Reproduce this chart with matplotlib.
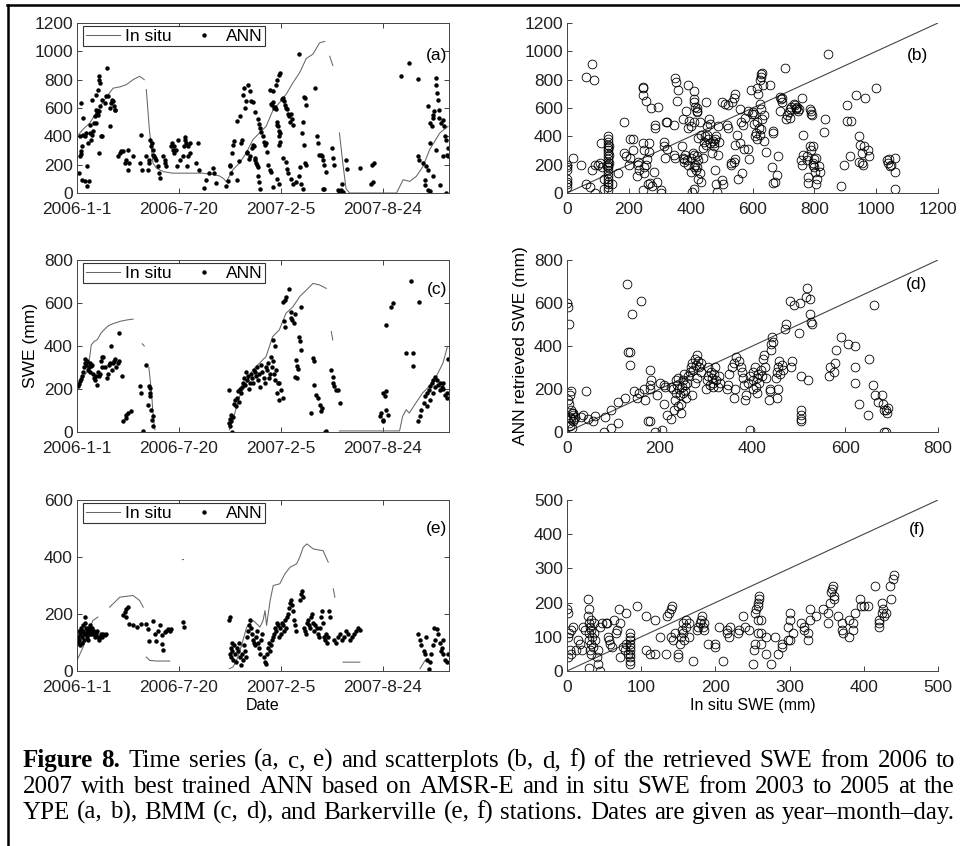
import numpy as np
import matplotlib
matplotlib.use("Agg")
import matplotlib.pyplot as plt
from matplotlib.lines import Line2D

plt.rcParams['font.family'] = 'Liberation Sans'
nan = np.nan

# ---------------- data (days since 2006-1-1, SWE in mm) ----------------
date_ticks = [0, 200, 400, 600]
date_labels = ['2006-1-1', '2006-7-20', '2007-2-5', '2007-8-24']

# (a) YPE
a_insitu_day = [0, 12, 25, 44, 58, 71, 85, 97, 110, 123, 132, nan, 136, 142, 149, 156, 170, 188, 220, 247, 267, 280, 288, 293,
                306, 319, 332, 345, 358, 371, 385, 398, 411, 424, 437, 450, 463, 476, 486, nan, 496, 502, nan, 515, 522, 528,
                535, 580, 627, 640, 653, 666, 679, 692, 712, 728]
a_insitu_val = [400, 450, 494, 600, 680, 740, 750, 765, 800, 824, 800, nan, 730, 450, 212, 175, 150, 140, 140, 140, 130, 120, 100, 80,
                165, 212, 282, 376, 424, 470, 588, 640, 700, 780, 850, 950, 980, 1060, 1070, nan, 965, 900, nan, 424, 200, 30,
                0, 0, 0, 94, 82, 118, 188, 306, 424, 470]
a_ann = [(3, 141), (5, 259), (7, 278), (8, 294), (10, 329), (5, 400), (12, 412), (15, 400), (17, 424), (8, 635), (12, 529), (9, 94),
         (15, 82), (20, 188), (22, 353), (20, 47), (24, 82), (25, 482), (26, 424), (28, 376), (30, 412), (31, 435), (33, 494),
         (35, 541), (37, 588), (38, 494), (39, 565), (41, 576), (41, 553), (43, 576), (45, 612), (29, 659), (38, 694), (41, 729),
         (43, 800), (44, 824), (46, 776), (49, 659), (44, 282), (48, 400), (50, 400), (54, 635), (56, 682), (58, 882), (61, 682),
         (64, 600), (66, 635), (68, 659), (71, 647), (73, 612), (75, 588), (74, 588), (64, 471), (81, 259), (84, 282), (87, 294),
         (91, 294), (95, 212), (97, 235), (100, 306), (102, 212), (100, 165), (110, 259), (126, 412), (124, 212), (127, 165),
         (136, 259), (139, 165), (141, 235), (142, 212), (144, 376), (146, 329), (148, 353), (149, 306), (150, 271), (152, 259),
         (154, 247), (155, 235), (158, 188), (161, 141), (162, 106), (168, 259), (172, 235), (173, 212), (175, 188), (184, 329),
         (186, 353), (188, 306), (190, 282), (191, 329), (195, 306), (198, 376), (196, 188), (203, 235), (208, 259), (209, 329),
         (211, 376), (213, 353), (217, 329), (221, 282), (218, 259), (216, 188), (211, 395), (221, 353), (234, 212), (237, 353),
         (240, 165), (250, 35), (254, 94), (260, 141), (266, 176), (269, 141), (273, 71), (293, 47), (296, 82), (300, 188),
         (301, 200), (303, 141), (304, 282), (306, 341), (308, 365), (313, 94), (314, 506), (318, 224), (319, 541), (322, 353),
         (323, 376), (326, 690), (327, 740), (330, 600), (331, 650), (333, 280), (334, 290), (337, 240), (340, 260), (343, 320),
         (345, 340), (347, 330), (349, 250), (350, 230), (352, 210), (353, 200), (355, 180), (356, 120), (358, 80), (359, 30),
         (335, 760), (340, 720), (342, 650), (345, 640), (350, 570), (355, 520), (358, 490), (360, 460), (362, 430), (365, 400),
         (366, 360), (368, 340), (370, 350), (372, 290), (375, 200), (378, 160), (380, 150), (385, 40), (380, 630), (382, 620),
         (384, 640), (386, 600), (388, 610), (390, 590), (392, 500), (393, 480), (394, 470), (396, 440), (397, 400), (398, 420),
         (399, 360), (396, 340), (378, 730), (385, 720), (390, 760), (393, 800), (396, 830), (398, 850), (392, 100), (396, 60),
         (402, 660), (404, 670), (406, 650), (408, 620), (410, 600), (412, 590), (414, 560), (416, 540), (418, 500), (420, 560),
         (422, 520), (424, 480), (405, 250), (410, 220), (412, 170), (414, 140), (420, 100), (424, 60), (430, 80), (435, 980),
         (445, 680), (448, 670), (450, 620), (444, 500), (442, 420), (446, 340), (448, 210), (450, 200), (438, 180), (436, 120),
         (440, 60), (444, 30), (468, 740), (470, 400), (472, 350), (475, 270), (478, 270), (480, 260), (483, 230), (485, 200),
         (488, 150), (482, 30), (485, 30), (500, 320), (502, 250), (504, 200), (512, 20), (515, 0), (518, 20), (520, 60),
         (522, 10), (527, 230), (530, 170), (555, 176), (578, 200), (582, 212), (580, 80), (577, 60), (635, 823), (651, 918),
         (669, 807), (669, 259), (672, 235), (679, 212), (682, 94), (682, 59), (688, 612), (692, 353), (693, 494), (697, 470),
         (698, 529), (699, 553), (701, 576), (705, 812), (705, 765), (706, 706), (708, 659), (710, 588), (711, 529), (714, 494),
         (718, 518), (721, 470), (723, 400), (725, 376), (727, 271), (728, 259), (718, 259), (705, 306), (698, 122), (692, 12),
         (688, 24), (712, 59), (724, 0), (728, 318), (685, 188), (688, 165)]

# (b) YPE scatter (in situ, ANN)
b_pts = [(0, 40), (0, 60), (0, 80), (0, 100), (0, 160), (0, 180), (0, 200), (20, 250), (45, 200), (60, 820), (60, 60), (80, 910),
         (88, 800), (80, 160), (75, 40), (90, 200), (90, 0), (100, 200), (108, 210), (112, 180), (110, 350), (120, 30), (120, 100),
         (133, 20), (133, 40), (133, 60), (133, 80), (133, 100), (133, 120), (133, 140), (133, 160), (133, 180), (133, 200),
         (133, 220), (133, 240), (133, 260), (133, 280), (133, 300), (133, 320), (133, 340), (133, 360), (133, 380), (133, 400),
         (136, 210), (136, 270), (136, 330), (130, 190), (145, 60), (165, 140), (185, 500), (185, 280), (190, 260), (205, 380),
         (205, 250), (200, 200), (215, 380), (215, 300), (230, 200), (230, 220), (232, 160), (228, 120), (245, 740), (245, 750),
         (245, 690), (245, 350), (248, 300), (245, 20), (248, 180), (250, 140), (255, 650), (258, 240), (255, 200), (265, 350),
         (265, 290), (262, 60), (275, 50), (270, 70), (272, 600), (285, 480), (285, 460), (283, 150), (295, 610), (292, 80),
         (305, 0), (303, 20), (315, 360), (315, 330), (318, 250), (320, 500), (323, 500), (325, 310), (345, 270), (348, 250),
         (345, 480), (350, 810), (352, 780), (355, 650), (360, 730), (375, 250), (378, 240), (380, 220), (372, 330), (376, 520),
         (382, 270), (385, 580), (388, 230), (390, 200), (392, 760), (390, 460), (394, 510), (400, 470), (402, 250), (400, 150),
         (405, 10), (410, 720), (410, 660), (412, 640), (414, 610), (410, 500), (408, 280), (412, 270), (414, 200), (410, 180),
         (416, 160), (412, 30), (420, 600), (422, 570), (420, 580), (425, 390), (420, 260), (424, 230), (422, 180), (425, 100),
         (430, 500), (432, 410), (430, 140), (432, 80), (440, 320), (440, 250), (442, 360), (445, 400), (450, 640), (452, 470),
         (455, 380), (450, 340), (454, 410), (460, 520), (462, 490), (464, 350), (472, 370), (475, 350), (478, 380), (476, 330),
         (470, 280), (482, 60), (480, 160), (482, 400), (484, 10), (490, 270), (492, 360), (488, 470), (500, 640), (500, 90),
         (505, 60), (510, 630), (520, 620), (518, 480), (522, 460), (530, 200), (532, 210), (535, 640), (540, 670), (545, 700),
         (540, 220), (545, 240), (542, 340), (550, 410), (552, 100), (560, 590), (562, 500), (560, 350), (565, 140), (570, 480),
         (575, 530), (572, 310), (585, 580), (586, 310), (588, 240), (595, 730), (598, 560), (600, 570), (605, 560), (608, 400),
         (606, 490), (615, 740), (618, 700), (615, 500), (612, 420), (620, 460), (616, 380), (625, 800), (627, 820), (628, 840),
         (630, 850), (625, 630), (628, 590), (626, 450), (630, 520), (624, 410), (635, 760), (638, 550), (636, 370), (645, 290),
         (655, 760), (665, 440), (665, 420), (662, 180), (666, 70), (672, 80), (680, 130), (682, 260), (690, 680), (692, 660),
         (694, 670), (696, 640), (690, 580), (705, 880), (708, 520), (710, 550), (720, 530), (722, 590), (725, 610), (718, 570),
         (735, 630), (738, 620), (740, 600), (742, 590), (745, 610), (748, 580), (750, 590), (760, 670), (762, 410), (758, 230),
         (760, 200), (764, 270), (775, 260), (776, 230), (778, 110), (780, 70), (785, 590), (788, 580), (790, 560), (792, 550),
         (786, 330), (790, 300), (795, 330), (797, 210), (795, 200), (798, 240), (800, 180), (802, 150), (805, 250), (808, 100),
         (806, 60), (815, 190), (817, 150), (830, 430), (835, 520), (845, 980), (885, 50), (895, 200), (905, 620), (907, 510),
         (920, 510), (915, 260), (935, 690), (945, 400), (947, 340), (945, 220), (955, 210), (957, 200), (955, 280), (965, 670),
         (962, 330), (975, 300), (978, 260), (1000, 740), (1035, 230), (1037, 210), (1040, 240), (1045, 190), (1047, 200),
         (1060, 250), (1060, 150), (1062, 30)]

# (c) BMM
c_insitu_day = [0, 10, 20, 25, 28, 33, 40, 47, 55, 62, 72, 85, 100, 110, nan, 128, 132, nan, 141, 146, 150, 153, nan,
                299, 306, 319, 332, 345, 358, 371, 384, 397, 410, 424, 437, 450, 463, 476, 489, nan, 499, 502, nan,
                515, 560, 600, 633, 639, 646, 652, 665, 678, 691, 705, 718, 727]
c_insitu_val = [212, 250, 280, 350, 405, 420, 430, 460, 480, 495, 505, 515, 522, 525, nan, 410, 400, nan, 300, 190, 60, 10, nan,
                10, 57, 165, 227, 289, 320, 351, 444, 475, 552, 583, 630, 660, 691, 684, 668, nan, 467, 428, nan,
                5, 5, 5, 5, 73, 104, 88, 135, 181, 212, 258, 320, 398]
c_ann = [(2, 212), (4, 225), (6, 235), (8, 245), (10, 260), (12, 280), (14, 300), (15, 320), (16, 340), (18, 310), (20, 330),
         (22, 290), (24, 300), (25, 320), (26, 280), (28, 305), (30, 310), (32, 270), (34, 250), (36, 240), (38, 260), (40, 220),
         (42, 280), (44, 260), (46, 270), (48, 330), (50, 350), (52, 350), (50, 300), (55, 300), (58, 250), (60, 270), (62, 310),
         (64, 320), (66, 400), (68, 290), (70, 320), (72, 330), (74, 340), (76, 300), (80, 320), (82, 330), (82, 460), (88, 260),
         (90, 50), (97, 80), (100, 88), (105, 96), (97, 65), (123, 212), (126, 181), (130, 5), (136, 313), (139, 127), (141, 212),
         (143, 204), (144, 181), (146, 104), (148, 57), (149, 26), (150, 73), (143, 166), (299, 40), (300, 60), (301, 30),
         (302, 80), (303, 50), (305, 0), (306, 70), (308, 130), (310, 150), (312, 120), (314, 160), (316, 190), (318, 140),
         (320, 200), (322, 180), (324, 210), (326, 230), (328, 250), (330, 220), (332, 280), (334, 240), (336, 260), (338, 200),
         (340, 230), (342, 270), (344, 250), (346, 230), (348, 290), (350, 280), (352, 260), (354, 300), (356, 240), (358, 270),
         (360, 210), (362, 310), (364, 280), (366, 250), (368, 230), (370, 300), (372, 290), (374, 320), (376, 250), (378, 270),
         (380, 350), (382, 300), (384, 330), (386, 270), (388, 240), (390, 290), (392, 180), (394, 230), (396, 150), (299, 196),
         (384, 428), (388, 400), (397, 227), (401, 196), (404, 158), (404, 606), (408, 615), (411, 630), (416, 664), (407, 514),
         (409, 490), (419, 528), (420, 560), (422, 521), (426, 505), (428, 550), (430, 336), (432, 305), (435, 444), (437, 421),
         (439, 382), (432, 250), (427, 258), (433, 294), (440, 583), (463, 343), (465, 330), (466, 220), (469, 173), (472, 160),
         (476, 127), (478, 96), (481, 110), (460, 88), (486, 0), (489, 3), (499, 289), (502, 258), (505, 212), (509, 196),
         (512, 196), (517, 135), (502, 227), (594, 73), (597, 88), (600, 50), (601, 181), (604, 166), (607, 104), (610, 80),
         (601, 57), (607, 189), (607, 498), (617, 583), (620, 599), (645, 367), (660, 367), (660, 308), (656, 700), (672, 606),
         (670, 50), (673, 73), (676, 104), (680, 135), (683, 166), (686, 181), (690, 196), (693, 212), (696, 227), (699, 243),
         (703, 258), (706, 240), (709, 220), (712, 230), (716, 210), (719, 200), (722, 170), (726, 160), (729, 340), (686, 120),
         (693, 150), (699, 180), (703, 210), (712, 195), (719, 230), (726, 180)]

# (d) BMM scatter
d_pts = [(0, 600), (2, 580), (4, 500), (8, 190), (6, 170), (3, 150), (5, 130), (8, 100), (10, 90), (12, 80), (6, 70), (9, 60),
         (13, 50), (4, 40), (7, 30), (11, 20), (15, 60), (18, 70), (14, 90), (40, 190), (30, 70), (35, 80), (45, 60), (55, 50),
         (60, 75), (80, 0), (82, 70), (95, 100), (95, 20), (110, 140), (110, 40), (125, 160), (130, 690), (132, 370), (136, 370),
         (135, 310), (140, 550), (145, 190), (150, 160), (155, 180), (160, 610), (165, 200), (168, 150), (178, 200), (180, 220),
         (182, 240), (180, 290), (175, 50), (180, 50), (190, 0), (195, 170), (200, 230), (210, 220), (212, 210), (210, 130),
         (215, 80), (205, 10), (225, 210), (228, 200), (225, 60), (230, 100), (232, 150), (235, 180), (238, 220), (240, 250),
         (242, 200), (244, 170), (246, 130), (248, 210), (250, 240), (252, 270), (254, 190), (256, 160), (258, 230), (260, 260),
         (235, 240), (240, 120), (245, 90), (250, 180), (255, 220), (265, 280), (268, 300), (270, 320), (272, 290), (275, 340),
         (278, 310), (280, 360), (282, 330), (285, 300), (288, 280), (290, 320), (270, 170), (275, 230), (280, 250), (300, 200),
         (302, 240), (305, 260), (308, 220), (310, 280), (312, 250), (315, 230), (318, 270), (320, 300), (322, 240), (325, 210),
         (328, 260), (330, 230), (305, 300), (315, 210), (345, 200), (348, 220), (350, 270), (355, 300), (360, 320), (365, 350),
         (370, 330), (375, 300), (378, 280), (360, 160), (362, 200), (380, 250), (382, 220), (384, 150), (386, 170), (395, 10),
         (390, 230), (395, 260), (400, 280), (402, 240), (405, 300), (408, 210), (410, 250), (412, 270), (415, 230), (418, 290),
         (420, 260), (422, 340), (425, 360), (428, 300), (430, 250), (400, 200), (410, 180), (435, 150), (437, 190), (438, 200),
         (440, 380), (440, 410), (442, 440), (444, 420), (450, 250), (453, 280), (455, 300), (458, 330), (460, 270), (463, 310),
         (466, 290), (452, 160), (456, 200), (470, 480), (472, 500), (480, 610), (482, 300), (486, 330), (490, 590), (500, 460),
         (502, 600), (505, 260), (505, 100), (505, 80), (505, 60), (505, 50), (515, 630), (517, 670), (520, 240), (525, 550),
         (527, 510), (528, 500), (523, 620), (565, 260), (567, 300), (580, 380), (578, 320), (575, 280), (590, 440), (605, 410),
         (620, 300), (622, 400), (620, 230), (630, 130), (650, 80), (652, 340), (660, 220), (662, 590), (665, 170), (670, 140),
         (680, 170), (682, 130), (684, 100), (683, 0), (688, 0), (690, 90), (692, 110), (688, 100)]

# (e) Barkerville
e_insitu_day = [0, 12, 22, 31, 41, nan, 64, 84, 110, 123, 130, nan, 136, 143, 156, 182, nan, 207, 209, nan,
                299, 306, 313, 320, 333, 346, 359, 365, 369, 372, 379, 385, 398, 408, 418, 431, 437, 444, 451, 464, 483, 493,
                nan, 503, 506, nan, 522, 555, nan, 673, 683, 690]
e_insitu_val = [37, 84, 131, 177, 189, nan, 224, 259, 265, 247, 224, nan, 49, 37, 35, 35, nan, 391, 391, nan,
                8, 14, 37, 72, 154, 177, 154, 177, 212, 160, 247, 300, 306, 341, 364, 376, 399, 434, 446, 428, 422, 382,
                nan, 288, 259, nan, 31, 31, nan, 8, 37, 43]
e_ann = [(1, 100), (2, 120), (3, 140), (4, 110), (5, 90), (6, 130), (7, 150), (8, 140), (9, 120), (10, 100), (11, 140), (12, 160),
         (13, 110), (14, 130), (15, 190), (16, 170), (17, 150), (18, 130), (19, 140), (20, 120), (21, 110), (22, 150), (23, 140),
         (24, 130), (25, 160), (26, 150), (27, 130), (28, 140), (30, 150), (32, 130), (34, 140), (36, 120), (38, 130), (40, 140),
         (42, 120), (44, 110), (46, 120), (48, 130), (50, 120), (52, 130), (54, 125), (56, 130), (90, 195), (94, 207), (97, 218),
         (100, 224), (96, 189), (103, 166), (110, 160), (117, 154), (126, 166), (136, 166), (139, 148), (141, 107), (149, 177),
         (153, 131), (156, 107), (159, 142), (162, 160), (166, 125), (167, 96), (169, 72), (172, 137), (175, 142), (179, 148),
         (183, 142), (185, 148), (208, 172), (209, 154), (299, 180), (300, 190), (301, 60), (302, 50), (303, 80), (304, 100),
         (305, 70), (306, 40), (308, 90), (310, 60), (312, 30), (314, 80), (316, 70), (318, 100), (320, 50), (322, 20), (324, 60),
         (326, 40), (328, 90), (330, 70), (332, 50), (334, 120), (336, 140), (338, 160), (340, 180), (342, 150), (344, 130),
         (346, 110), (348, 100), (350, 90), (352, 120), (354, 140), (356, 100), (358, 80), (360, 60), (362, 110), (364, 130),
         (366, 50), (368, 30), (370, 25), (372, 60), (374, 80), (376, 100), (378, 70), (380, 90), (382, 110), (384, 120),
         (386, 130), (388, 150), (390, 140), (392, 170), (394, 160), (396, 120), (398, 150), (400, 130), (402, 170), (404, 160),
         (406, 140), (408, 180), (410, 150), (412, 190), (414, 200), (416, 220), (418, 240), (420, 250), (422, 230), (424, 210),
         (426, 180), (428, 160), (430, 140), (438, 250), (440, 270), (442, 280), (444, 260), (446, 150), (448, 140), (450, 130),
         (452, 170), (454, 180), (456, 160), (458, 150), (460, 190), (462, 200), (464, 170), (466, 140), (468, 160), (470, 150),
         (472, 130), (474, 120), (476, 150), (478, 190), (480, 210), (482, 170), (484, 120), (486, 110), (488, 130), (490, 100),
         (492, 120), (494, 212), (496, 189), (504, 110), (508, 100), (512, 120), (516, 130), (520, 110), (524, 120), (528, 140),
         (532, 130), (536, 110), (540, 120), (544, 130), (548, 140), (552, 150), (555, 145), (670, 131), (673, 110), (676, 90),
         (680, 70), (683, 60), (686, 40), (690, 8), (692, 30), (695, 60), (698, 90), (702, 110), (706, 148), (709, 130),
         (712, 100), (716, 80), (719, 60), (722, 40), (726, 30), (729, 60), (684, 120), (700, 150), (714, 70), (718, 110)]

# (f) Barkerville scatter
f_pts = [(0, 180), (2, 170), (3, 110), (1, 100), (4, 60), (5, 50), (2, 40), (6, 120), (8, 130), (15, 90), (18, 80), (20, 60),
         (22, 130), (24, 120), (12, 60), (28, 210), (30, 180), (32, 150), (30, 140), (31, 130), (33, 120), (29, 110), (34, 100),
         (30, 90), (32, 80), (35, 70), (31, 60), (33, 50), (28, 160), (36, 140), (30, 10), (37, 110), (38, 90), (40, 40), (42, 20),
         (44, 0), (45, 130), (47, 140), (42, 60), (52, 140), (54, 140), (55, 100), (56, 90), (58, 80), (60, 70), (64, 150),
         (66, 110), (67, 120), (70, 180), (71, 140), (72, 40), (76, 70), (78, 60), (80, 80), (82, 50), (80, 170), (85, 20),
         (85, 30), (85, 40), (85, 50), (85, 60), (85, 70), (85, 80), (85, 90), (85, 100), (85, 110), (95, 190), (107, 160),
         (107, 60), (112, 50), (118, 50), (118, 150), (125, 100), (133, 50), (135, 160), (138, 170), (140, 180), (142, 190),
         (145, 110), (140, 100), (143, 90), (150, 40), (150, 50), (152, 80), (154, 100), (155, 120), (156, 140), (157, 110),
         (158, 90), (160, 130), (160, 150), (165, 140), (165, 100), (170, 30), (175, 120), (177, 130), (179, 140), (180, 150),
         (182, 160), (183, 130), (185, 120), (184, 140), (190, 80), (200, 70), (200, 80), (205, 130), (210, 30), (215, 110),
         (216, 120), (218, 100), (220, 130), (230, 110), (232, 120), (237, 160), (240, 130), (245, 120), (250, 20), (252, 60),
         (253, 170), (255, 180), (254, 80), (258, 190), (258, 200), (259, 220), (259, 210), (258, 150), (258, 110), (262, 150),
         (262, 80), (262, 110), (268, 50), (268, 100), (275, 20), (280, 100), (285, 50), (290, 70), (290, 80), (298, 90),
         (298, 130), (300, 170), (300, 150), (300, 90), (305, 110), (315, 140), (320, 130), (320, 120), (325, 90), (325, 110),
         (328, 180), (328, 150), (335, 160), (345, 180), (352, 170), (352, 140), (355, 200), (356, 230), (357, 240), (358, 250),
         (360, 210), (360, 220), (365, 160), (370, 140), (370, 120), (372, 110), (380, 150), (380, 100), (385, 120), (386, 140),
         (388, 170), (395, 210), (396, 190), (400, 190), (405, 190), (415, 250), (420, 140), (420, 130), (421, 150), (425, 170),
         (425, 200), (426, 180), (427, 160), (430, 170), (435, 250), (437, 210), (440, 270), (441, 280)]

caption = [
    "Figure 8. Time series (a, c, e) and scatterplots (b, d, f) of the retrieved SWE from 2006 to",
    "2007 with best trained ANN based on AMSR-E and in situ SWE from 2003 to 2005 at the",
    "YPE (a, b), BMM (c, d), and Barkerville (e, f) stations. Dates are given as year\u2013month\u2013day.",
]

# ---------------- figure ----------------
W, H = 960, 846
fig = plt.figure(figsize=(W / 100, H / 100), dpi=100)

def box(x0, y0, x1, y1):
    return [x0 / W, 1 - y1 / H, (x1 - x0) / W, (y1 - y0) / H]

FS = 12.5
LC = '#666666'

def style_ts(ax, ymax):
    ax.set_xlim(0, 730)
    ax.set_ylim(0, ymax)
    ax.set_xticks(date_ticks)
    ax.set_xticklabels(date_labels)
    ax.set_yticks(np.arange(0, ymax + 1, 200))
    ax.tick_params(direction='in', length=3.5, width=0.6, top=True, right=True, labelsize=FS, colors='#222')
    ax.tick_params(axis='x', pad=6.5)
    ax.tick_params(axis='y', pad=3)
    for s in ax.spines.values():
        s.set_linewidth(0.7)
        s.set_color('#444')

def style_sc(ax, vmax, step):
    ax.set_xlim(0, vmax)
    ax.set_ylim(0, vmax)
    ax.set_xticks(np.arange(0, vmax + 1, step))
    ax.set_yticks(np.arange(0, vmax + 1, step))
    ax.spines['top'].set_visible(False)
    ax.spines['right'].set_visible(False)
    for s in ['left', 'bottom']:
        ax.spines[s].set_linewidth(0.7)
        ax.spines[s].set_color('#444')
    ax.tick_params(direction='in', length=3.5, width=0.6, labelsize=FS, colors='#222')
    ax.tick_params(axis='x', pad=6.5)
    ax.tick_params(axis='y', pad=3)

def ts_panel(rect, days, vals, ann, ymax, tag, tag_y):
    ax = fig.add_axes(rect)
    ax.plot(days, vals, color=LC, lw=0.75)
    ad, av = zip(*ann)
    ax.plot(ad, av, ls='none', marker='o', ms=3.2, color='k', mew=0)
    style_ts(ax, ymax)
    handles = [Line2D([], [], color=LC, lw=0.75),
               Line2D([], [], ls='none', marker='o', ms=3.2, color='k', mew=0)]
    leg = ax.legend(handles, ['In situ', 'ANN'], ncol=2, loc='upper left', bbox_to_anchor=(0.016, 0.982),
                    borderaxespad=0, borderpad=0.15, handlelength=2.0, handletextpad=0.25, columnspacing=0.9,
                    fancybox=False, edgecolor='#333', framealpha=1, fontsize=FS)
    leg.get_frame().set_linewidth(0.8)
    ax.text(0.995, tag_y, tag, transform=ax.transAxes, ha='right', va='center', fontsize=FS)
    return ax

def sc_panel(rect, pts, vmax, step, tag, tag_x, tag_y):
    ax = fig.add_axes(rect)
    ax.plot([0, vmax], [0, vmax], color='#444', lw=0.8)
    x, y = zip(*pts)
    ax.plot(x, y, ls='none', marker='o', ms=6.3, mfc='none', mec='k', mew=0.6)
    style_sc(ax, vmax, step)
    ax.text(tag_x, tag_y, tag, transform=ax.transAxes, ha='right', va='center', fontsize=FS)
    return ax

ax_a = ts_panel(box(77, 23, 449, 193), a_insitu_day, a_insitu_val, a_ann, 1200, '(a)', 0.806)
ax_b = sc_panel(box(567, 23, 938, 193), b_pts, 1200, 200, '(b)', 0.973, 0.806)
ax_c = ts_panel(box(77, 260, 449, 432), c_insitu_day, c_insitu_val, c_ann, 800, '(c)', 0.83)
ax_d = sc_panel(box(567, 260, 938, 432), d_pts, 800, 200, '(d)', 0.97, 0.855)
ax_e = ts_panel(box(77, 500, 449, 671), e_insitu_day, e_insitu_val, e_ann, 600, '(e)', 0.836)
ax_f = sc_panel(box(567, 500, 938, 671), f_pts, 500, 100, '(f)', 0.965, 0.825)

ax_c.set_ylabel('SWE (mm)', fontsize=FS, labelpad=4)
ax_d.set_ylabel('ANN retrieved SWE (mm)', fontsize=FS, labelpad=4)
ax_e.set_xlabel('Date', fontsize=11.5, labelpad=2)
ax_f.set_xlabel('In situ SWE (mm)', fontsize=11.5, labelpad=2)

# outer frame (top and left edges visible)
fig.add_artist(Line2D([7 / W, 1], [1 - 5 / H, 1 - 5 / H], transform=fig.transFigure, color='k', lw=1.8))
fig.add_artist(Line2D([8 / W, 8 / W], [0, 1 - 5 / H], transform=fig.transFigure, color='k', lw=1.8))

# justified caption
renderer = fig.canvas.get_renderer()
cap_fs = 18
x_left, x_right = 23, 955
baselines = [767, 793, 819]
for i, line in enumerate(caption):
    words = line.split(' ')
    objs = []
    for j, w in enumerate(words):
        bold = (i == 0 and j < 2)
        t = fig.text(0, 1 - baselines[i] / H, w, fontsize=cap_fs, family='Liberation Serif',
                     fontweight='bold' if bold else 'normal', va='baseline', ha='left')
        objs.append(t)
    widths = [t.get_window_extent(renderer).width for t in objs]
    gap = (x_right - x_left - sum(widths)) / (len(words) - 1)
    x = x_left
    for t, w in zip(objs, widths):
        t.set_x(x / W)
        x += w + gap

fig.savefig('out.png', dpi=100)
